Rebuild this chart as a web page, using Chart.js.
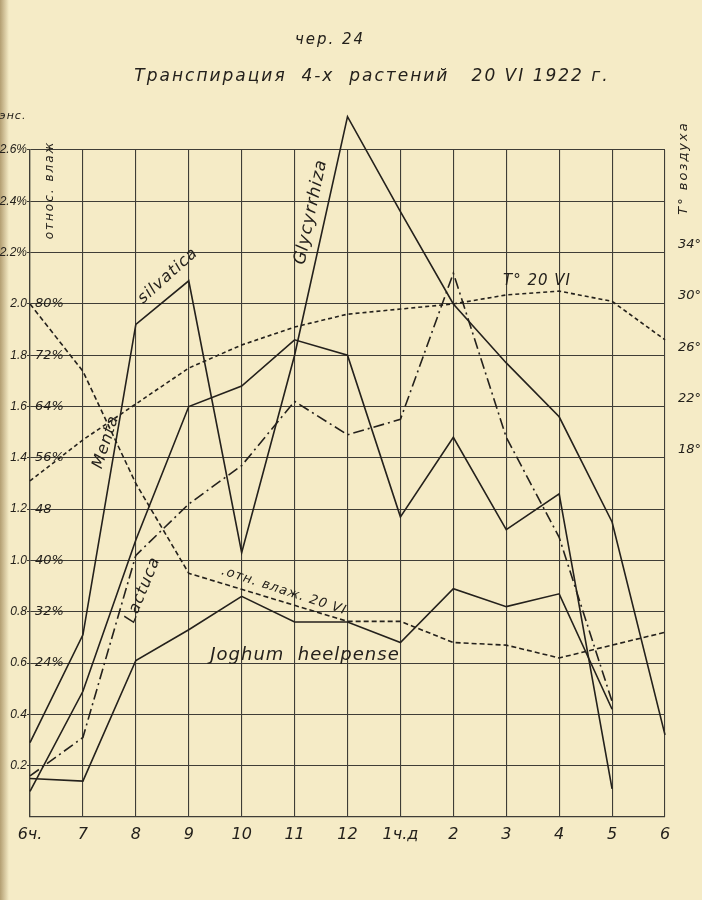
<!DOCTYPE html>
<html lang="ru">
<head>
<meta charset="utf-8">
<title>Транспирация 4-х растений 20 VI 1922 г.</title>
<script src="https://cdn.jsdelivr.net/npm/chart.js@4.4.1/dist/chart.umd.min.js"></script>
<style>
    html, body { margin: 0; padding: 0; background: #f5ecc8; }
    #wrap { width: 702px; height: 900px; position: relative; }
</style>
</head>
<body>
<div id="wrap"><canvas id="transpChart"></canvas></div>
<script>
/* =========================
   DATA
========================= */

const hours = ["6ч.", "7", "8", "9", "10", "11", "12", "1ч.д", "2", "3", "4", "5", "6"];

// transpiration, left scale
const menthaSilvatica = [0.29, 0.71, 1.92, 2.09, 1.03, 1.80, 2.73, 2.36, 2.00, 1.77, 1.56, 1.15, 0.32];
const glycyrrhiza     = [0.10, 0.49, 1.08, 1.60, 1.68, 1.86, 1.80, 1.17, 1.48, 1.12, 1.26, 0.11, null];
const lactuca         = [0.16, 0.31, 1.02, 1.22, 1.37, 1.62, 1.49, 1.55, 2.12, 1.48, 1.09, 0.45, null];
const sorghum         = [0.15, 0.14, 0.61, 0.73, 0.86, 0.76, 0.76, 0.68, 0.89, 0.82, 0.87, 0.42, null];

// air on 20 VI
const airTemp     = [16.2, 19.4, 22.2, 25.0, 26.8, 28.2, 29.2, 29.6, 30.0, 30.7, 31.0, 30.2, 27.2];
const airHumidity = [80, 69.5, 52, 38, 35.5, 33, 30.5, 30.5, 27.2, 26.8, 24.8, 26.8, 28.8];

// axes
const transpTicks    = [0.2, 0.4, 0.6, 0.8, 1.0, 1.2, 1.4, 1.6, 1.8, 2.0, 2.2, 2.4, 2.6];
const transpLabels   = ["0.2", "0.4", "0.6", "0.8", "1.0", "1.2", "1.4", "1.6", "1.8", "2.0", "2.2%", "2.4%", "2.6%"];
const humidityTicks  = [24, 32, 40, 48, 56, 64, 72, 80];
const humidityLabels = ["24%", "32%", "40%", "48", "56%", "64%", "72%", "80%"];
const tempTicks      = [18, 22, 26, 30, 34];


/* =========================
   LOOK
========================= */

const PAPER = "#f5ebc6";
const INK = "#24211c";
const GRID = "#3f3d36";
const HAND = "'DejaVu Sans', sans-serif";
const NARROW = "'Liberation Sans', sans-serif";

const notes = [
    { text: "чер. 24", x: 330, y: 40, angle: 0, size: 15, gap: 2 },
    { text: "Транспирация  4-х  растений   20 VI 1922 г.", x: 372, y: 77, angle: 0, size: 17, gap: 2 },
    { text: "энс.", x: 13, y: 116, angle: 0, size: 11, gap: 1 },
    { text: "относ. влаж", x: 50, y: 190, angle: -90, size: 12, gap: 2 },
    { text: "T° воздуха", x: 684, y: 168, angle: -90, size: 13, gap: 2 },
    { text: "Menta", x: 106, y: 442, angle: -72, size: 16, gap: 1 },
    { text: "silvatica", x: 168, y: 276, angle: -42, size: 16, gap: 1 },
    { text: "Glycyrrhiza", x: 311, y: 212, angle: -78, size: 17, gap: 1 },
    { text: "Lactuca", x: 143, y: 590, angle: -68, size: 16, gap: 1 },
    { text: "Joghum  heelpense", x: 305, y: 655, angle: 0, size: 18, gap: 1 },
    { text: ".отн. влаж. 20 VI", x: 284, y: 591, angle: 18, size: 13, gap: 1 },
    { text: "T° 20 VI", x: 537, y: 281, angle: 0, size: 15, gap: 1 }
];


/* =========================
   PLUGINS
========================= */

const paperPlugin = {
    id: "paper",
    beforeDraw(chart) {
        const { ctx, width, height } = chart;
        ctx.save();
        ctx.fillStyle = PAPER;
        ctx.fillRect(0, 0, width, height);
        const g = ctx.createLinearGradient(0, 0, 9, 0);
        g.addColorStop(0, "rgba(125, 95, 45, 0.55)");
        g.addColorStop(1, "rgba(125, 95, 45, 0)");
        ctx.fillStyle = g;
        ctx.fillRect(0, 0, 9, height);
        ctx.restore();
    }
};

const notesPlugin = {
    id: "notes",
    afterDraw(chart) {
        const ctx = chart.ctx;
        notes.forEach(n => {
            ctx.save();
            ctx.translate(n.x, n.y);
            ctx.rotate(n.angle * Math.PI / 180);
            ctx.font = "italic " + n.size + "px " + HAND;
            ctx.letterSpacing = n.gap + "px";
            ctx.fillStyle = INK;
            ctx.textAlign = "center";
            ctx.textBaseline = "middle";
            ctx.fillText(n.text, 0, 0);
            ctx.restore();
        });
    }
};


/* =========================
   CHART
========================= */

function line(label, data, axis, dash) {
    return {
        label: label,
        data: data,
        yAxisID: axis,
        borderColor: INK,
        borderWidth: 1.6,
        borderDash: dash,
        pointRadius: 0,
        tension: 0,
        fill: false,
        clip: false
    };
}

function renderTranspirationChart() {
    const ctx = document.getElementById("transpChart");
    if (!ctx) return;

    new Chart(ctx, {
        type: "line",
        data: {
            labels: hours,
            datasets: [
                line("Mentha silvatica", menthaSilvatica, "y", []),
                line("Glycyrrhiza", glycyrrhiza, "y", []),
                line("Lactuca", lactuca, "y", [11, 4, 2, 4]),
                line("Joghum heelpense", sorghum, "y", []),
                line("T° 20 VI", airTemp, "yT", [4, 3]),
                line("отн. влаж. 20 VI", airHumidity, "yH", [5, 3])
            ]
        },
        options: {
            responsive: true,
            maintainAspectRatio: false,
            animation: false,
            layout: { padding: { top: 150, left: 0, right: 0, bottom: 0 } },
            plugins: {
                legend: { display: false },
                tooltip: { enabled: false }
            },
            scales: {
                x: {
                    type: "category",
                    offset: false,
                    grid: { color: GRID, lineWidth: 1.1, drawTicks: false },
                    border: { color: GRID, width: 1.3 },
                    ticks: {
                        color: INK,
                        font: { family: HAND, style: "italic", size: 16 },
                        padding: 8,
                        maxRotation: 0,
                        autoSkip: false
                    },
                    afterFit(scale) { scale.height = 83; }
                },
                y: {
                    position: "left",
                    weight: 1,
                    min: 0,
                    max: 2.6,
                    afterBuildTicks(scale) {
                        scale.ticks = transpTicks.map(v => ({ value: v }));
                    },
                    grid: { color: GRID, lineWidth: 1.1, tickLength: 3 },
                    border: { color: GRID, width: 1.3 },
                    ticks: {
                        color: INK,
                        font: { family: NARROW, style: "italic", size: 12 },
                        padding: 0,
                        callback: (v, i) => transpLabels[i]
                    },
                    afterFit(scale) { scale.width = 30; }
                },
                yH: {
                    position: "left",
                    weight: 0,
                    min: 0,
                    max: 104,
                    afterBuildTicks(scale) {
                        scale.ticks = humidityTicks.map(v => ({ value: v }));
                    },
                    grid: { display: false },
                    border: { display: false },
                    ticks: {
                        mirror: true,
                        color: INK,
                        font: { family: HAND, style: "italic", size: 13 },
                        padding: 5,
                        callback: (v, i) => humidityLabels[i]
                    },
                    afterFit(scale) { scale.width = 0; }
                },
                yT: {
                    position: "right",
                    min: -10,
                    max: 42,
                    afterBuildTicks(scale) {
                        scale.ticks = tempTicks.map(v => ({ value: v }));
                    },
                    grid: { display: false },
                    border: { display: false },
                    ticks: {
                        color: INK,
                        font: { family: HAND, style: "italic", size: 13 },
                        padding: 5,
                        labelOffset: -8,
                        callback: v => v + "°"
                    },
                    afterFit(scale) { scale.width = 37; }
                }
            }
        },
        plugins: [paperPlugin, notesPlugin]
    });
}

document.addEventListener("DOMContentLoaded", () => {
    if (typeof Chart === "undefined") return;
    renderTranspirationChart();
});
</script>
</body>
</html>
